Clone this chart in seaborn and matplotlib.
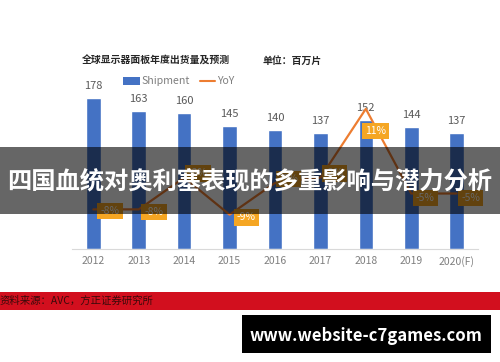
import matplotlib
matplotlib.use("Agg")
import matplotlib.pyplot as plt
from matplotlib.patches import Rectangle
import seaborn as sns
import pandas as pd
import numpy as np

years = ['2012', '2013', '2014', '2015', '2016', '2017', '2018', '2019', '2020(F)']
shipment = [178, 163, 160, 145, 140, 137, 152, 144, 137]
yoy = [-8, -8, -2, -9, -3, -2, 11, -5, -5]

df = pd.DataFrame({'year': years, 'shipment': shipment, 'yoy': yoy})

sns.set_theme(style='white')
plt.rcParams['font.family'] = ['Noto Sans CJK SC', 'DejaVu Sans']

blue = '#4472C4'
orange = '#ED7D31'
labelbox = '#F5A623'
grey = '#7f7f7f'

fig = plt.figure(figsize=(5, 3.62), dpi=100)
ax = fig.add_axes([0.144, 0.312, 0.812, 0.453])
sns.barplot(data=df, x='year', y='shipment', color=blue, width=0.32,
            saturation=1, ax=ax)
ax.set_xlim(-0.47, 8.47)
ax.set_ylim(0, 193)
for i, v in enumerate(shipment):
    ax.annotate(str(v), (i, v), xytext=(0, 5), textcoords='offset points',
                ha='center', va='bottom', fontsize=8, color='#595959')
ax.set_xlabel('')
ax.set_ylabel('')
ax.set_yticks([])
ax.tick_params(axis='x', length=0, labelsize=7.5, colors=grey, pad=5)
for s in ['top', 'left', 'right']:
    ax.spines[s].set_visible(False)
ax.spines['bottom'].set_color('#d9d9d9')
ax.spines['bottom'].set_linewidth(0.8)

ax2 = ax.twinx()
sns.lineplot(x=np.arange(len(years)), y=yoy, color=orange, lw=1.6, ax=ax2)
ax2.set_ylim(-15.5, 15.5)
ax2.set_yticks([])
ax2.set_ylabel('')
for s in ax2.spines.values():
    s.set_visible(False)
offsets = [(12, -1), (11, -2), (10, 3), (12, -2), (10, 3), (10, 3), (7, -16), (10, -3), (10, -3)]
for i, (v, off) in enumerate(zip(yoy, offsets)):
    ax2.annotate(f'{v}%', (i, v), xytext=off, textcoords='offset points',
                 ha='center', va='center', fontsize=7.5, color='white',
                 bbox=dict(boxstyle='square,pad=0.3', fc=labelbox, ec='none'))

fig.text(0.164, 0.833, '全球显示器面板年度出货量及预测', fontsize=7.1,
         fontweight='bold', color='#262626', ha='left', va='center')
fig.text(0.526, 0.833, '单位：百万片', fontsize=7.1, fontweight='bold',
         color='#262626', ha='left', va='center')

# legend
fig.add_artist(Rectangle((0.246, 0.766), 0.034, 0.02, transform=fig.transFigure,
                         fc=blue, ec='none'))
fig.text(0.282, 0.776, 'Shipment', fontsize=7.6, color=grey, ha='left', va='center')
fig.add_artist(plt.Line2D([0.4, 0.43], [0.776, 0.776], transform=fig.transFigure,
                          color=orange, lw=1.5))
fig.text(0.435, 0.776, 'YoY', fontsize=7.6, color=grey, ha='left', va='center')

# overlay banner
fig.add_artist(Rectangle((0, 1 - 214 / 362), 1, 67 / 362, transform=fig.transFigure,
                         fc='black', ec='none', alpha=0.6, zorder=5))
fig.text(0.5, 1 - 181 / 362, '四国血统对奥利塞表现的多重影响与潜力分析', fontsize=17.5,
         fontweight='bold', color='white', ha='center', va='center', zorder=6)

# source strip
fig.add_artist(Rectangle((0, 1 - 310 / 362), 1, 18 / 362, transform=fig.transFigure,
                         fc='#d20f1e', ec='none', zorder=5))
fig.text(0.0, 1 - 301 / 362, '资料来源：AVC，方正证券研究所', fontsize=7.5,
         color='#3a0a0a', ha='left', va='center', zorder=6)

# watermark box
fig.add_artist(Rectangle((242 / 500, 1 - 353 / 362), 249 / 500, 38 / 362,
                         transform=fig.transFigure, fc='black', ec='none', zorder=5))
fig.text(366 / 500, 1 - 336 / 362, 'www.website-c7games.com', fontsize=12,
         fontweight='bold', color='white', ha='center', va='center', zorder=6)

fig.savefig('out.png', dpi=100, facecolor='white')
